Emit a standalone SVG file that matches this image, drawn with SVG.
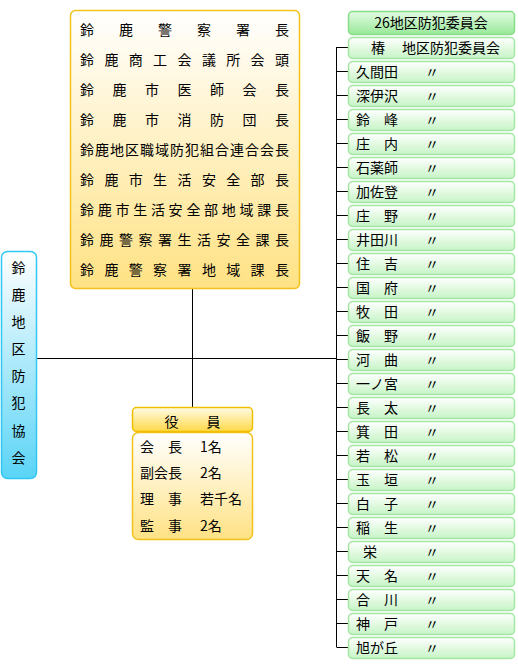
<svg xmlns="http://www.w3.org/2000/svg" width="518" height="670" viewBox="0 0 518 670">
<defs>
<linearGradient id="gY" x1="0" y1="0" x2="0" y2="1"><stop offset="0" stop-color="#FFFFFF"/><stop offset="1" stop-color="#FFE284"/></linearGradient>
<linearGradient id="gYH" x1="0" y1="0" x2="0" y2="1"><stop offset="0" stop-color="#FFFCE6"/><stop offset="1" stop-color="#FFD848"/></linearGradient>
<linearGradient id="gC" x1="0" y1="0" x2="0" y2="1"><stop offset="0" stop-color="#FFFFFF"/><stop offset="1" stop-color="#5AD4F6"/></linearGradient>
<linearGradient id="gGH" x1="0" y1="0" x2="0" y2="1"><stop offset="0" stop-color="#E4FBE4"/><stop offset="1" stop-color="#98E898"/></linearGradient>
<linearGradient id="gG" x1="0" y1="0" x2="0" y2="1"><stop offset="0" stop-color="#FFFFFF"/><stop offset="1" stop-color="#C6F4C6"/></linearGradient>
</defs>
<style>
text{font-family:"Noto Sans CJK JP","Noto Sans CJK SC",sans-serif;font-size:14px;fill:#000}
.yb{fill:url(#gY);stroke:#F2C21A;stroke-width:1.5}
.yh{fill:url(#gYH);stroke:#F0C000;stroke-width:1.5}
.cb{fill:url(#gC);stroke:#30C8F2;stroke-width:1.5}
.gh{fill:url(#gGH);stroke:#86DE86;stroke-width:1.5}
.gr{fill:url(#gG);stroke:#A2E8A2;stroke-width:1.5}
.ln{stroke:#000;stroke-width:1;fill:none}
.m{text-anchor:middle}
</style>
<g id="connectors">
<path class="ln" d="M192.5 288V407"/>
<path class="ln" d="M36 358.5H336.5"/>
<path class="ln" d="M336.5 47V647"/>
<path class="ln" d="M336.5 47.5H348M336.5 71.5H348M336.5 95.5H348M336.5 119.5H348M336.5 143.5H348M336.5 167.5H348M336.5 191.5H348M336.5 215.5H348M336.5 239.5H348M336.5 263.5H348M336.5 287.5H348M336.5 311.5H348M336.5 335.5H348M336.5 359.5H348M336.5 383.5H348M336.5 407.5H348M336.5 431.5H348M336.5 455.5H348M336.5 479.5H348M336.5 503.5H348M336.5 527.5H348M336.5 551.5H348M336.5 575.5H348M336.5 599.5H348M336.5 623.5H348M336.5 647.5H348"/>
</g>
<g id="members">
<rect class="yb" x="70.5" y="10.5" width="229" height="278" rx="5"/>
<text x="80 119 158 197 236 275" y="35">鈴鹿警察署長</text>
<text x="80 104.4 128.8 153.1 177.5 201.9 226.3 250.6 275" y="65">鈴鹿商工会議所会頭</text>
<text x="80 112.5 145 177.5 210 242.5 275" y="95">鈴鹿市医師会長</text>
<text x="80 112.5 145 177.5 210 242.5 275" y="125">鈴鹿市消防団長</text>
<text x="80 95 110 125 140 155 170 185 200 215 230 245 260 275" y="155">鈴鹿地区職域防犯組合連合会長</text>
<text x="80 104.4 128.8 153.1 177.5 201.9 226.3 250.6 275" y="185">鈴鹿市生活安全部長</text>
<text x="80 97.7 115.5 133.2 150.9 168.6 186.4 204.1 221.8 239.5 257.3 275" y="215">鈴鹿市生活安全部地域課長</text>
<text x="80 99.5 119 138.5 158 177.5 197 216.5 236 255.5 275" y="245">鈴鹿警察署生活安全課長</text>
<text x="80 104.4 128.8 153.1 177.5 201.9 226.3 250.6 275" y="275">鈴鹿警察署地域課長</text>
</g>
<g id="association">
<rect class="cb" x="1.5" y="251.5" width="35" height="227" rx="6"/>
<text class="m" x="18.5" y="273">鈴</text>
<text class="m" x="18.5" y="300">鹿</text>
<text class="m" x="18.5" y="327">地</text>
<text class="m" x="18.5" y="354">区</text>
<text class="m" x="18.5" y="381">防</text>
<text class="m" x="18.5" y="408">犯</text>
<text class="m" x="18.5" y="436">協</text>
<text class="m" x="18.5" y="463">会</text>
</g>
<g id="officers">
<rect class="yb" x="132.5" y="432.5" width="120" height="107" rx="6"/>
<rect class="yh" x="132.5" y="407.5" width="120" height="24" rx="4"/>
<text class="m" x="192.5" y="427">役　　員</text>
<text x="140" y="452">会　長</text><text x="200" y="452">1名</text>
<text x="140" y="478">副会長</text><text x="200" y="478">2名</text>
<text x="140" y="504">理　事</text><text x="200" y="504">若千名</text>
<text x="140" y="531">監　事</text><text x="200" y="531">2名</text>
</g>
<g id="committees-header">
<rect class="gh" x="348.5" y="11.5" width="166" height="23" rx="4"/>
<text class="m" x="431" y="28">26地区防犯委員会</text>
</g>
<g id="committees">
<rect class="gr" x="348.5" y="37.5" width="166" height="21" rx="4"/><text x="371" y="53">椿</text><text x="402" y="53">地区防犯委員会</text>
<rect class="gr" x="348.5" y="61.5" width="166" height="21" rx="4"/><text x="356" y="77">久間田</text><text x="425" y="77">〃</text>
<rect class="gr" x="348.5" y="85.5" width="166" height="21" rx="4"/><text x="356" y="101">深伊沢</text><text x="425" y="101">〃</text>
<rect class="gr" x="348.5" y="109.5" width="166" height="21" rx="4"/><text x="356" y="125">鈴　峰</text><text x="425" y="125">〃</text>
<rect class="gr" x="348.5" y="133.5" width="166" height="21" rx="4"/><text x="356" y="149">庄　内</text><text x="425" y="149">〃</text>
<rect class="gr" x="348.5" y="157.5" width="166" height="21" rx="4"/><text x="356" y="173">石薬師</text><text x="425" y="173">〃</text>
<rect class="gr" x="348.5" y="181.5" width="166" height="21" rx="4"/><text x="356" y="197">加佐登</text><text x="425" y="197">〃</text>
<rect class="gr" x="348.5" y="205.5" width="166" height="21" rx="4"/><text x="356" y="221">庄　野</text><text x="425" y="221">〃</text>
<rect class="gr" x="348.5" y="229.5" width="166" height="21" rx="4"/><text x="356" y="245">井田川</text><text x="425" y="245">〃</text>
<rect class="gr" x="348.5" y="253.5" width="166" height="21" rx="4"/><text x="356" y="269">住　吉</text><text x="425" y="269">〃</text>
<rect class="gr" x="348.5" y="277.5" width="166" height="21" rx="4"/><text x="356" y="293">国　府</text><text x="425" y="293">〃</text>
<rect class="gr" x="348.5" y="301.5" width="166" height="21" rx="4"/><text x="356" y="317">牧　田</text><text x="425" y="317">〃</text>
<rect class="gr" x="348.5" y="325.5" width="166" height="21" rx="4"/><text x="356" y="341">飯　野</text><text x="425" y="341">〃</text>
<rect class="gr" x="348.5" y="349.5" width="166" height="21" rx="4"/><text x="356" y="365">河　曲</text><text x="425" y="365">〃</text>
<rect class="gr" x="348.5" y="373.5" width="166" height="21" rx="4"/><text x="356" y="389">一ノ宮</text><text x="425" y="389">〃</text>
<rect class="gr" x="348.5" y="397.5" width="166" height="21" rx="4"/><text x="356" y="413">長　太</text><text x="425" y="413">〃</text>
<rect class="gr" x="348.5" y="421.5" width="166" height="21" rx="4"/><text x="356" y="437">箕　田</text><text x="425" y="437">〃</text>
<rect class="gr" x="348.5" y="445.5" width="166" height="21" rx="4"/><text x="356" y="461">若　松</text><text x="425" y="461">〃</text>
<rect class="gr" x="348.5" y="469.5" width="166" height="21" rx="4"/><text x="356" y="485">玉　垣</text><text x="425" y="485">〃</text>
<rect class="gr" x="348.5" y="493.5" width="166" height="21" rx="4"/><text x="356" y="509">白　子</text><text x="425" y="509">〃</text>
<rect class="gr" x="348.5" y="517.5" width="166" height="21" rx="4"/><text x="356" y="533">稲　生</text><text x="425" y="533">〃</text>
<rect class="gr" x="348.5" y="541.5" width="166" height="21" rx="4"/><text x="363" y="557">栄</text><text x="425" y="557">〃</text>
<rect class="gr" x="348.5" y="565.5" width="166" height="21" rx="4"/><text x="356" y="581">天　名</text><text x="425" y="581">〃</text>
<rect class="gr" x="348.5" y="589.5" width="166" height="21" rx="4"/><text x="356" y="605">合　川</text><text x="425" y="605">〃</text>
<rect class="gr" x="348.5" y="613.5" width="166" height="21" rx="4"/><text x="356" y="629">神　戸</text><text x="425" y="629">〃</text>
<rect class="gr" x="348.5" y="637.5" width="166" height="21" rx="4"/><text x="356" y="653">旭が丘</text><text x="425" y="653">〃</text>
</g>
</svg>
